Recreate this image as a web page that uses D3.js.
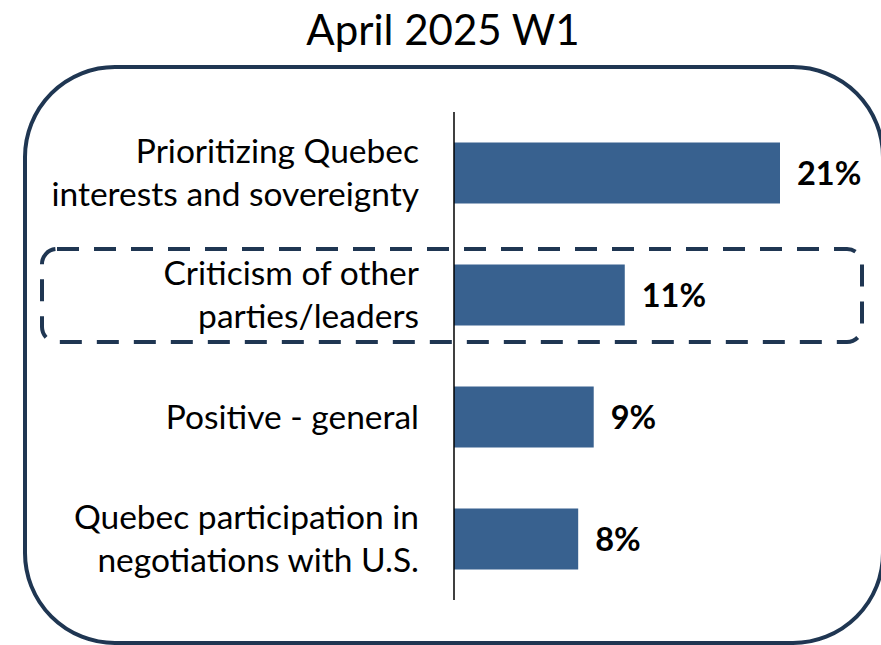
<!DOCTYPE html>
<html>
<head>
<meta charset="utf-8">
<script src="https://cdn.jsdelivr.net/npm/d3@7"></script>
<style>
  html, body { margin: 0; padding: 0; background: #fff; overflow: hidden; }
  svg { display: block; font-family: Lato, "Open Sans", sans-serif; }
</style>
</head>
<body>
<svg id="chart" width="881" height="645"></svg>
<script>
// Share of mentions, April 2025 wave 1
const title = "April 2025 W1";
const categories = [
  ["Prioritizing Quebec", "interests and sovereignty"],
  ["Criticism of other", "parties/leaders"],
  ["Positive - general"],
  ["Quebec participation in", "negotiations with U.S."]
];
const values = [21, 11, 9, 8];
const valueLabels = ["21%", "11%", "9%", "8%"];
const highlighted = 1; // row framed with a dashed outline

const svg = d3.select("#chart");
const navy = "#1f3652";
const barColor = "#38618f";

// Outer rounded frame
svg.append("rect")
  .attr("x", 25).attr("y", 67)
  .attr("width", 858).attr("height", 576)
  .attr("rx", 90).attr("ry", 90)
  .attr("fill", "#fff")
  .attr("stroke", navy).attr("stroke-width", 4);

// Title
svg.append("text")
  .attr("x", 443).attr("y", 45)
  .attr("text-anchor", "middle")
  .attr("font-size", 42)
  .attr("fill", "#000")
  .text(title);

const axisX = 454;
const x = d3.scaleLinear().domain([0, 21]).range([axisX, 780]);
const y = d3.scaleBand()
  .domain(d3.range(categories.length))
  .range([112, 600])
  .paddingInner(0.5)
  .paddingOuter(0.25);

// Dashed highlight around one row
const hy = y(highlighted) + y.bandwidth() / 2;
svg.append("rect")
  .attr("x", 42).attr("y", hy - 46)
  .attr("width", 820).attr("height", 93)
  .attr("rx", 15).attr("ry", 15)
  .attr("fill", "none")
  .attr("stroke", navy).attr("stroke-width", 4)
  .attr("stroke-dasharray", "22 15");

// Bars
svg.append("g").selectAll("rect")
  .data(values)
  .join("rect")
  .attr("x", axisX)
  .attr("y", (d, i) => y(i))
  .attr("width", d => x(d) - axisX)
  .attr("height", y.bandwidth())
  .attr("fill", barColor);

// Vertical category axis line
svg.append("line")
  .attr("x1", axisX).attr("x2", axisX)
  .attr("y1", 112).attr("y2", 600)
  .attr("stroke", "#000").attr("stroke-width", 1.5);

// Value labels
svg.append("g").selectAll("text")
  .data(values)
  .join("text")
  .attr("x", d => x(d) + 17)
  .attr("y", (d, i) => y(i) + y.bandwidth() / 2)
  .attr("dy", "0.36em")
  .attr("font-size", 32.5)
  .attr("font-weight", 700)
  .attr("fill", "#000")
  .text((d, i) => valueLabels[i]);

// Category labels, right aligned against the axis
const lineH = 43;
const labels = svg.append("g").selectAll("text")
  .data(categories)
  .join("text")
  .attr("text-anchor", "end")
  .attr("font-size", 33.5)
  .attr("fill", "#000");
labels.each(function(lines, i) {
  const cy = y(i) + y.bandwidth() / 2;
  const t = d3.select(this);
  lines.forEach((ln, k) => {
    t.append("tspan")
      .attr("x", 419)
      .attr("y", cy + (k - (lines.length - 1) / 2) * lineH)
      .attr("dy", "0.35em")
      .text(ln);
  });
});
</script>
</body>
</html>
